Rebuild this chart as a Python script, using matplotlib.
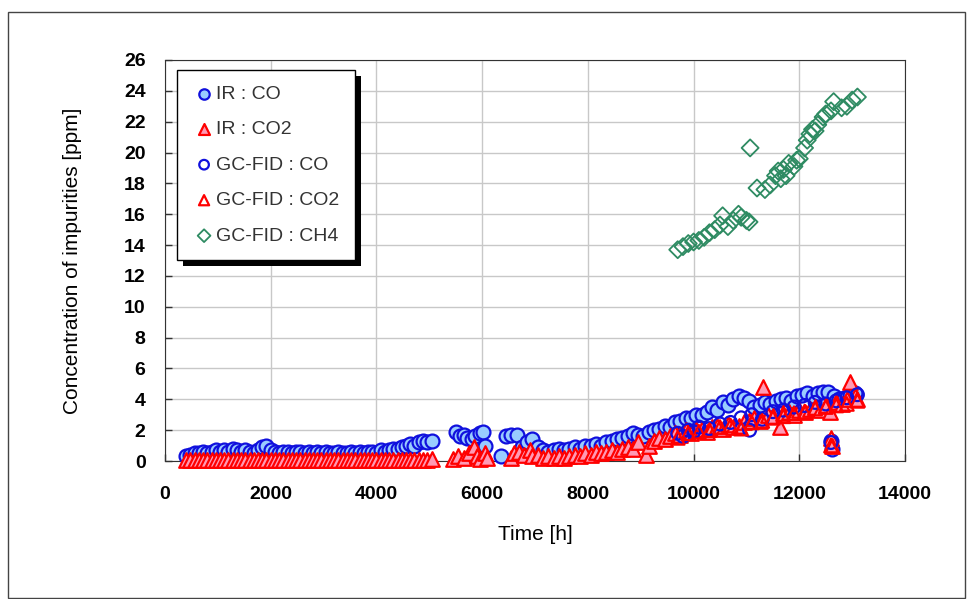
import numpy as np
import matplotlib.pyplot as plt
from matplotlib.patches import Rectangle

# IR : CO
ir_co_t = [400, 480, 560, 640, 720, 800, 880, 960, 1040, 1120, 1200, 1280, 1360, 1440, 1520,
           1600, 1680, 1760, 1840, 1920, 2000, 2080, 2160, 2240, 2320, 2400, 2480, 2560, 2640,
           2720, 2800, 2880, 2960, 3040, 3120, 3200, 3280, 3360, 3440, 3520, 3600, 3680, 3760,
           3840, 3920, 4000, 4080, 4160, 4240, 4320, 4400, 4480, 4560, 4640, 4720, 4800, 4880,
           4960, 5050, 5500, 5580, 5650, 5720, 5800, 5870, 5950, 6020, 6060, 6350, 6450, 6550,
           6650, 6750, 6850, 6950, 7050, 7150, 7250, 7350, 7450, 7550, 7650, 7750, 7850, 7950,
           8050, 8150, 8250, 8350, 8450, 8550, 8650, 8750, 8850, 8950, 9050, 9150, 9250, 9350,
           9450, 9550, 9650, 9750, 9850, 9950, 10050, 10150, 10250, 10350, 10450, 10550, 10650,
           10750, 10850, 10950, 11050, 11150, 11250, 11350, 11450, 11550, 11650, 11750, 11850,
           11950, 12050, 12150, 12250, 12350, 12450, 12550, 12600, 12610, 12650, 12750, 12850,
           12950, 13050]
ir_co_v = [0.3, 0.4, 0.5, 0.5, 0.6, 0.5, 0.6, 0.7, 0.6, 0.7, 0.6, 0.8, 0.7, 0.6, 0.7,
           0.6, 0.5, 0.7, 0.9, 1.0, 0.7, 0.6, 0.5, 0.6, 0.6, 0.5, 0.6, 0.6, 0.5,
           0.6, 0.5, 0.6, 0.5, 0.6, 0.5, 0.5, 0.6, 0.5, 0.5, 0.6, 0.5, 0.6, 0.5,
           0.6, 0.6, 0.5, 0.7, 0.6, 0.7, 0.8, 0.8, 0.9, 1.0, 1.1, 1.0, 1.2, 1.3,
           1.2, 1.3, 1.9, 1.6, 1.7, 1.5, 1.4, 1.6, 1.8, 1.9, 1.0, 0.3, 1.6, 1.7,
           1.7, 0.9, 1.2, 1.4, 0.9, 0.7, 0.6, 0.7, 0.8, 0.7, 0.8, 0.9, 0.8, 1.0,
           1.0, 1.1, 1.0, 1.2, 1.3, 1.4, 1.5, 1.6, 1.8, 1.7, 1.6, 1.9, 2.0, 2.1,
           2.3, 2.2, 2.5, 2.6, 2.8, 2.8, 3.0, 3.0, 3.2, 3.5, 3.3, 3.8, 3.6,
           4.0, 4.2, 4.1, 3.9, 3.5, 3.6, 3.8, 3.7, 3.9, 4.0, 4.1, 3.9,
           4.2, 4.3, 4.4, 4.2, 4.4, 4.5, 4.5, 1.3, 0.8, 4.2, 4.0, 4.1,
           4.3, 4.4]

# IR : CO2
ir_co2_t = [400, 480, 560, 640, 720, 800, 880, 960, 1040, 1120, 1200, 1280, 1360, 1440, 1520,
            1600, 1680, 1760, 1840, 1920, 2000, 2080, 2160, 2240, 2320, 2400, 2480, 2560, 2640,
            2720, 2800, 2880, 2960, 3040, 3120, 3200, 3280, 3360, 3440, 3520, 3600, 3680, 3760,
            3840, 3920, 4000, 4080, 4160, 4240, 4320, 4400, 4480, 4560, 4640, 4720, 4800, 4880,
            4960, 5050, 5450, 5550, 5650, 5750, 5850, 5900, 5950, 6050, 6100, 6550, 6600, 6700,
            6800, 6900, 6950, 7050, 7150, 7250, 7350, 7450, 7550, 7650, 7750, 7850, 7950, 8050,
            8150, 8250, 8350, 8450, 8550, 8650, 8750, 8850, 8950, 9100, 9150, 9250, 9350, 9450,
            9550, 9650, 9750, 9850, 9950, 10050, 10150, 10250, 10350, 10450, 10550, 10650, 10750,
            10850, 10950, 11050, 11150, 11250, 11310, 11400, 11500, 11630, 11700, 11800, 11900,
            12000, 12100, 12200, 12300, 12400, 12500, 12580, 12600, 12610, 12700, 12800, 12900,
            12960, 13050, 13100]
ir_co2_v = [0.05, 0.05, 0.05, 0.05, 0.05, 0.05, 0.05, 0.05, 0.05, 0.05, 0.05, 0.05, 0.05, 0.05, 0.05,
            0.05, 0.05, 0.05, 0.05, 0.05, 0.05, 0.05, 0.05, 0.05, 0.05, 0.05, 0.05, 0.05, 0.05,
            0.05, 0.05, 0.05, 0.05, 0.05, 0.05, 0.05, 0.05, 0.05, 0.05, 0.05, 0.05, 0.05, 0.05,
            0.05, 0.05, 0.05, 0.05, 0.05, 0.05, 0.05, 0.05, 0.05, 0.05, 0.05, 0.05, 0.05, 0.05,
            0.05, 0.1, 0.1, 0.3, 0.2, 0.5, 0.9, 0.3, 0.1, 0.5, 0.2, 0.2, 0.5, 0.6,
            0.4, 0.7, 0.3, 0.4, 0.2, 0.3, 0.2, 0.3, 0.2, 0.3, 0.4, 0.3, 0.5, 0.4,
            0.6, 0.5, 0.6, 0.7, 0.6, 0.8, 0.9, 0.8, 1.2, 0.4, 1.0, 1.3, 1.5, 1.4,
            1.6, 1.8, 1.7, 2.0, 1.8, 2.0, 2.1, 1.9, 2.2, 2.3, 2.1, 2.4, 2.2,
            2.3, 2.5, 2.6, 2.8, 2.6, 4.8, 3.0, 2.9, 2.2, 3.1, 3.2, 3.0,
            3.3, 3.2, 3.4, 3.5, 3.3, 3.6, 3.2, 1.5, 1.0, 3.8, 3.7, 4.0,
            5.1, 4.2, 4.0]

# GC-FID : CO
gc_co_t = [9700, 9800, 9900, 10000, 10100, 10300, 10500, 10700, 10900, 11060, 11100, 11300,
           11500, 11700, 11900, 12100, 12300, 12500, 12600, 12700, 12900, 13100]
gc_co_v = [1.8, 1.6, 2.0, 1.9, 2.2, 2.1, 2.4, 2.5, 2.8, 2.0, 3.0, 2.7,
           3.2, 3.3, 3.5, 3.6, 3.8, 3.7, 1.2, 3.9, 4.1, 4.3]

# GC-FID : CO2
gc_co2_t = [9700, 9900, 10100, 10300, 10500, 10700, 10900, 11100, 11300, 11500, 11700, 11900,
            12100, 12300, 12500, 12600, 12700, 12900, 13100]
gc_co2_v = [1.5, 1.8, 1.9, 2.0, 2.2, 2.3, 2.1, 2.5, 2.6, 2.8, 2.9, 3.1,
            3.2, 3.4, 3.5, 1.0, 3.6, 3.7, 3.9]

# GC-FID : CH4
gc_ch4_t = [9700, 9800, 9900, 10000, 10100, 10200, 10300, 10400, 10500, 10550, 10650, 10750,
            10850, 10900, 11000, 11050, 11070, 11200, 11350, 11450, 11550, 11600, 11650, 11700,
            11750, 11800, 11900, 11950, 12000, 12100, 12150, 12200, 12250, 12300, 12350, 12450,
            12500, 12600, 12650, 12800, 12900, 13000, 13100]
gc_ch4_v = [13.7, 13.9, 14.1, 14.2, 14.3, 14.5, 14.8, 15.0, 15.3, 15.9, 15.2, 15.6,
            16.0, 15.8, 15.6, 15.5, 20.3, 17.7, 17.6, 17.9, 18.5, 18.8, 18.3, 18.9,
            18.5, 19.3, 19.1, 19.5, 19.6, 20.3, 20.8, 21.2, 21.5, 21.4, 21.8, 22.3,
            22.5, 22.7, 23.3, 22.9, 23.0, 23.4, 23.6]

blue = '#1010dd'
red = '#ff0000'
green = '#2e8b62'
font = ['Liberation Sans Narrow', 'Liberation Sans', 'DejaVu Sans']

fig = plt.figure(figsize=(9.68, 5.99), dpi=100)
fig.patches.append(Rectangle((8 / 968, 0.002), 957 / 968, 1 - 12 / 599 - 0.002,
                             transform=fig.transFigure, fill=False, edgecolor='#444444', lw=1))
ax = fig.add_axes([165 / 968, 1 - 461 / 599, 740 / 968, 401 / 599])

ax.scatter(ir_co_t, ir_co_v, s=100, marker='o', facecolor='#99ccff', edgecolor=blue, lw=1.6,
           clip_on=False, label='IR : CO', zorder=3)
ax.scatter(ir_co2_t, ir_co2_v, s=110, marker='^', facecolor='#ff99b4', edgecolor=red, lw=1.6,
           clip_on=False, label='IR : CO2', zorder=3)
ax.scatter(gc_co_t, gc_co_v, s=85, marker='o', facecolor='none', edgecolor=blue, lw=1.6,
           clip_on=False, label='GC-FID : CO', zorder=3)
ax.scatter(gc_co2_t, gc_co2_v, s=95, marker='^', facecolor='none', edgecolor=red, lw=1.6,
           clip_on=False, label='GC-FID : CO2', zorder=3)
ax.scatter(gc_ch4_t, gc_ch4_v, s=75, marker='D', facecolor='none', edgecolor=green, lw=1.3,
           clip_on=False, label='GC-FID : CH4', zorder=3)

ax.set_xlim(0, 14000)
ax.set_ylim(0, 26)
ax.set_xticks(np.arange(0, 14001, 2000))
ax.set_yticks(np.arange(0, 27, 2))
ax.grid(True, color='#c8c8c8', lw=1)
ax.set_axisbelow(True)
ax.tick_params(direction='in', length=5, width=1, color='#333333')
ax.tick_params(axis='y', pad=14)
ax.tick_params(axis='x', pad=18)
for sp in ax.spines.values():
    sp.set_color('#333333')
for lab in ax.get_xticklabels() + ax.get_yticklabels():
    lab.set_family(font)
    lab.set_fontsize(14)
    lab.set_fontweight('bold')

ax.set_xlabel('Time [h]', family=font, fontsize=15, labelpad=16)
ax.set_ylabel('Concentration of impurities [ppm]', family=font, fontsize=15, labelpad=30)

leg = ax.legend(loc='upper left', bbox_to_anchor=(0.016, 0.976), frameon=True, fancybox=False,
                handletextpad=0.0, handlelength=1.2, markerscale=0.75,
                labelspacing=0.92, borderpad=0.8, borderaxespad=0,
                prop={'family': font, 'size': 14})
leg.get_frame().set_edgecolor('black')
leg.get_frame().set_linewidth(1)
leg.get_frame().set_alpha(1)
for t in leg.get_texts():
    t.set_color('#333333')

# solid black shadow behind the legend box
fig.canvas.draw()
bb = leg.get_window_extent()
shadow = Rectangle((bb.x0 + 6, bb.y0 - 6), bb.width, bb.height, transform=None,
                   facecolor='black', edgecolor='none', zorder=leg.get_zorder() - 0.1)
ax.add_artist(shadow)
shadow.set_clip_on(False)

fig.savefig('out.png', dpi=100)
